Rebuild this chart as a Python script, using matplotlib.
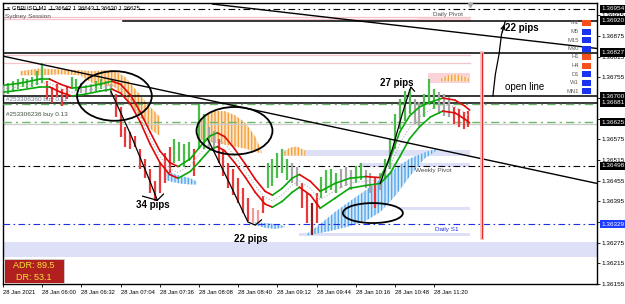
import matplotlib
matplotlib.use("Agg")
import matplotlib.pyplot as plt
import matplotlib.transforms as mtransforms
from matplotlib.patches import Ellipse, Rectangle
from matplotlib.collections import LineCollection
import numpy as np

plt.rcParams['font.family'] = ['Liberation Sans', 'DejaVu Sans']
plt.rcParams['hatch.linewidth'] = 1.0

# time axis: minutes since 05:28, 28 Jan 2021 (M1 chart), bars sampled every 4 minutes
bar_t = list(range(0, 384, 4))
bar_hi = [1.36732, 1.36738, 1.36744, 1.36750, 1.36752, 1.36750, 1.36755, 1.36773, 1.36796, 1.36744,
          1.36727, 1.36735, 1.36721, 1.36729, 1.36755, 1.36750, 1.36738, 1.36732, 1.36735, 1.36744,
          1.36750, 1.36744, 1.36735, 1.36706, 1.36669, 1.36611, 1.36597, 1.36585, 1.36548, 1.36519,
          1.36490, 1.36453, 1.36505, 1.36534, 1.36554, 1.36577, 1.36568, 1.36562, 1.36568, 1.36548,
          1.36678, 1.36649, 1.36611, 1.36600, 1.36577, 1.36548, 1.36505, 1.36490, 1.36462, 1.36433,
          1.36404, 1.36375, 1.36369, 1.36410, 1.36505, 1.36519, 1.36534, 1.36548, 1.36519, 1.36505,
          1.36496, 1.36447, 1.36418, 1.36390, 1.36418, 1.36467, 1.36485, 1.36490, 1.36476, 1.36490,
          1.36496, 1.36485, 1.36499, 1.36505, 1.36485, 1.36476, 1.36462, 1.36476, 1.36519, 1.36577,
          1.36649, 1.36692, 1.36715, 1.36721, 1.36692, 1.36683, 1.36706, 1.36750, 1.36721, 1.36712,
          1.36706, 1.36698, 1.36669, 1.36663, 1.36655, 1.36657]
bar_lo = [1.36704, 1.36706, 1.36715, 1.36721, 1.36727, 1.36724, 1.36727, 1.36732, 1.36738, 1.36692,
          1.36680, 1.36698, 1.36672, 1.36692, 1.36721, 1.36715, 1.36709, 1.36706, 1.36709, 1.36715,
          1.36721, 1.36712, 1.36704, 1.36640, 1.36583, 1.36554, 1.36548, 1.36554, 1.36490, 1.36462,
          1.36418, 1.36395, 1.36418, 1.36447, 1.36476, 1.36505, 1.36511, 1.36496, 1.36513, 1.36470,
          1.36548, 1.36548, 1.36548, 1.36542, 1.36505, 1.36470, 1.36433, 1.36413, 1.36390, 1.36361,
          1.36338, 1.36332, 1.36329, 1.36361, 1.36433, 1.36439, 1.36462, 1.36476, 1.36456, 1.36447,
          1.36439, 1.36375, 1.36332, 1.36297, 1.36332, 1.36404, 1.36418, 1.36427, 1.36418, 1.36433,
          1.36439, 1.36427, 1.36447, 1.36456, 1.36433, 1.36418, 1.36375, 1.36427, 1.36456, 1.36490,
          1.36548, 1.36606, 1.36629, 1.36649, 1.36620, 1.36614, 1.36640, 1.36678, 1.36663, 1.36649,
          1.36643, 1.36640, 1.36620, 1.36611, 1.36606, 1.36611]
# g up, r down, k neutral, p pale down, d dark down
bar_kind = "gggggggggrrrrrggkkkggkkrrrrrrrrrrrrggggrggkkrrrrrrrpprgggggkkrrdrggggkkkggkkrkggggggkkgggkkkrrrr"

# moving-average envelope
chan_t = [0, 14, 30, 38, 47, 56, 67, 79, 89, 96, 104, 112, 120, 128, 136, 143, 153, 161, 169, 175, 181, 189,
          198, 206, 214, 220, 228, 236, 242, 251, 259, 271, 283, 296, 308, 316, 324, 332, 340, 349, 359, 369, 377, 381]
chan_up = [1.36732, 1.36738, 1.36750, 1.36750, 1.36735, 1.36724, 1.36727, 1.36735, 1.36744, 1.36735,
           1.36704, 1.36655, 1.36597, 1.36542, 1.36508, 1.36496, 1.36519, 1.36554, 1.36585, 1.36594,
           1.36583, 1.36548, 1.36502, 1.36459, 1.36424, 1.36413, 1.36433, 1.36462, 1.36473, 1.36453,
           1.36424, 1.36447, 1.36462, 1.36467, 1.36464, 1.36519, 1.36597, 1.36643, 1.36669, 1.36683,
           1.36695, 1.36689, 1.36672, 1.36660]
chan_lo = [1.36712, 1.36718, 1.36727, 1.36727, 1.36712, 1.36701, 1.36706, 1.36715, 1.36721, 1.36709,
           1.36678, 1.36626, 1.36562, 1.36508, 1.36473, 1.36462, 1.36482, 1.36513, 1.36545, 1.36554,
           1.36542, 1.36508, 1.36464, 1.36421, 1.36387, 1.36378, 1.36395, 1.36421, 1.36436, 1.36413,
           1.36375, 1.36404, 1.36433, 1.36441, 1.36447, 1.36476, 1.36525, 1.36577, 1.36611, 1.36640,
           1.36657, 1.36652, 1.36634, 1.36623]
chan_mid = [1.36722, 1.36728, 1.36738, 1.36738, 1.36724, 1.36712, 1.36716, 1.36725, 1.36732, 1.36722,
            1.36691, 1.36640, 1.36580, 1.36525, 1.36490, 1.36479, 1.36500, 1.36534, 1.36565, 1.36574,
            1.36562, 1.36528, 1.36483, 1.36440, 1.36406, 1.36396, 1.36414, 1.36442, 1.36454, 1.36433,
            1.36400, 1.36426, 1.36448, 1.36454, 1.36457, 1.36498, 1.36561, 1.36610, 1.36640, 1.36662,
            1.36676, 1.36670, 1.36653, 1.36642]

# supply (orange) and demand (blue) zones
sell1_t = [14, 30, 47, 63, 73, 83, 91, 100, 108, 116, 122, 128]
sell1_top = [1.36773, 1.36781, 1.36778, 1.36776, 1.36773, 1.36776, 1.36776, 1.36755, 1.36721, 1.36686, 1.36663, 1.36640]
sell1_bot = [1.36761, 1.36761, 1.36764, 1.36761, 1.36738, 1.36732, 1.36727, 1.36692, 1.36657, 1.36623, 1.36600, 1.36585]
sell2_t = [159, 165, 173, 181, 189, 198, 206, 211]
sell2_top = [1.36620, 1.36643, 1.36657, 1.36657, 1.36646, 1.36623, 1.36583, 1.36542]
sell2_bot = [1.36577, 1.36571, 1.36565, 1.36560, 1.36554, 1.36548, 1.36539, 1.36534]
sell3_t = [229, 234, 240, 247]
sell3_top = [1.36537, 1.36551, 1.36554, 1.36542]
sell3_bot = [1.36528, 1.36528, 1.36528, 1.36528]
sell4_t = [357, 363, 370, 376, 381]
sell4_top = [1.36750, 1.36761, 1.36764, 1.36758, 1.36750]
sell4_bot = [1.36744, 1.36744, 1.36744, 1.36744, 1.36744]
buy1_t = [131, 136, 144, 153, 158]
buy1_top = [1.36485, 1.36479, 1.36470, 1.36462, 1.36453]
buy1_bot = [1.36462, 1.36453, 1.36447, 1.36444, 1.36444]
buy2_t = [206, 214, 222, 230]
buy2_top = [1.36335, 1.36332, 1.36329, 1.36323]
buy2_bot = [1.36326, 1.36318, 1.36315, 1.36320]
buy3_t = [248, 259, 271, 283, 296, 308, 320, 332, 344, 354]
buy3_top = [1.36300, 1.36329, 1.36364, 1.36395, 1.36427, 1.36459, 1.36490, 1.36519, 1.36537, 1.36548]
buy3_bot = [1.36295, 1.36303, 1.36312, 1.36323, 1.36338, 1.36364, 1.36410, 1.36467, 1.36519, 1.36542]

# pale rectangles (pivot zones)
lav_t0 = [0, 229, 291, 324, 242]
lav_t1 = [485, 381, 381, 381, 381]
lav_lo = [1.36234, 1.36528, 1.36496, 1.36369, 1.36295]
lav_hi = [1.36277, 1.36545, 1.36505, 1.36378, 1.36303]
pink_levels = [1.36931, 1.36925, 1.36819, 1.36796]
pink_box_t = [347, 340]
pink_box_t1 = [381, 381]
pink_box_lo = [1.36738, 1.36917]
pink_box_hi = [1.36767, 1.36928]

# horizontal levels
lvl_pivot_top = 1.36954
lvl_line22 = 1.36920
lvl_solid = [1.36827, 1.36700, 1.36681]
lvl_buy = [1.36678, 1.36625]
lvl_bid = 1.36620
lvl_weekly = 1.36498
lvl_s1 = 1.36329

trend1_t, trend1_p = [-3, 485], [1.36819, 1.36447]
trend2_t, trend2_p = [171, 485], [1.36968, 1.36839]

open_t = [400, 402, 405, 407, 410]
open_p = [1.36701, 1.36764, 1.36822, 1.36879, 1.36917]
p27_t = [308, 318, 326, 331, 333, 336]
p27_p = [1.36447, 1.36548, 1.36649, 1.36706, 1.36727, 1.36715]
p34_t = [88, 104, 120, 126, 131]
p34_p = [1.36715, 1.36591, 1.36453, 1.36398, 1.36416]
p34_hook_t, p34_hook_p = [126, 114], [1.36398, 1.36410]
p22_t = [167, 185, 200, 206, 211]
p22_p = [1.36577, 1.36447, 1.36335, 1.36326, 1.36341]

circ_t = [91, 189, 302]
circ_p = [1.36701, 1.36600, 1.36361]
circ_w = [61, 62, 49]
circ_h = [0.00144, 0.00138, 0.00058]

vline_t = 391
vline_p = [1.36289, 1.36827]

tick_t = list(range(0, 353, 32))
tick_lab = ["28 Jan 2021", "28 Jan 06:00", "28 Jan 06:32", "28 Jan 07:04", "28 Jan 07:36", "28 Jan 08:08",
            "28 Jan 08:40", "28 Jan 09:12", "28 Jan 09:44", "28 Jan 10:16", "28 Jan 10:48", "28 Jan 11:20"]
price_ticks = [1.36155, 1.36215, 1.36275, 1.36335, 1.36395, 1.36455, 1.36515, 1.36575,
               1.36635, 1.36695, 1.36755, 1.36815, 1.36875, 1.36935]
box_prices = [1.36954, 1.36920, 1.36827, 1.36700, 1.36681, 1.36625, 1.36498]
s1_box = 1.36329

tf_names = ["M1", "M5", "M15", "M30", "H1", "H4", "D1", "W1", "MN1"]
tf_up = [False, True, True, True, False, False, True, True, True]

# ---------------------------------------------------------------
fig = plt.figure(figsize=(6.25, 3.04), dpi=100)
ax = fig.add_axes([3 / 625, 20 / 304, 594 / 625, 281 / 304])
ax.set_xlim(0, 485)
ax.set_ylim(1.36162, 1.36971)

def px(x, y):
    return x / 625, 1 - y / 304

# pale bands
for t0, t1, lo, hi in zip(lav_t0, lav_t1, lav_lo, lav_hi):
    ax.fill_between([t0, t1], lo, hi, color='#dde0f7', lw=0, zorder=1)
for lv in pink_levels:
    ax.plot([0, 381], [lv, lv], color='#f6c4cb', lw=0.9, zorder=1)
for t0, t1, lo, hi in zip(pink_box_t, pink_box_t1, pink_box_lo, pink_box_hi):
    ax.fill_between([t0, t1], lo, hi, color='#fad3d9', lw=0, zorder=1)

# zones
for t, top, bot in [(sell1_t, sell1_top, sell1_bot), (sell2_t, sell2_top, sell2_bot),
                    (sell3_t, sell3_top, sell3_bot), (sell4_t, sell4_top, sell4_bot)]:
    ax.fill_between(t, bot, top, facecolor='#fde6c8', edgecolor='#f5a03e', hatch='|||||', lw=0, zorder=2)
for t, top, bot in [(buy1_t, buy1_top, buy1_bot), (buy2_t, buy2_top, buy2_bot), (buy3_t, buy3_top, buy3_bot)]:
    ax.fill_between(t, bot, top, facecolor='#d3e8fb', edgecolor='#5aa8ec', hatch='|||||', lw=0, zorder=2)

# levels
dd = (0, (6, 3, 1.5, 3))
ax.axhline(lvl_pivot_top, color='black', lw=0.8, ls=dd, zorder=3)
ax.plot([98, 485], [lvl_line22, lvl_line22], color='black', lw=1.1, zorder=3)
for lv in lvl_solid:
    ax.axhline(lv, color='black', lw=1.1, zorder=3)
for lv in lvl_buy:
    ax.axhline(lv, color='#6cb86c', lw=1.0, ls=dd, zorder=3)
ax.axhline(lvl_bid, color='#cccccc', lw=0.9, zorder=2)
ax.axhline(lvl_weekly, color='black', lw=0.8, ls=dd, zorder=3)
ax.axhline(lvl_s1, color='#2030e6', lw=0.8, ls=dd, zorder=3)

# bars
bar_colors = {'g': '#4cbc4c', 'r': '#e83a3a', 'k': '#a6a6a6', 'p': '#f29a9a', 'd': '#8b1c1c'}
ax.vlines(bar_t, bar_lo, bar_hi, colors=[bar_colors[c] for c in bar_kind], lw=1.6, zorder=4)

# envelope, coloured by direction
for series in (chan_up, chan_lo):
    pts = np.column_stack([chan_t, series])
    segs = np.stack([pts[:-1], pts[1:]], axis=1)
    cols = ['#0aa80a' if d >= 0 else '#dd0a0a' for d in np.diff(series)]
    ax.add_collection(LineCollection(segs, colors=cols, lw=1.2, zorder=5, capstyle='round'))
ax.plot(chan_t, chan_mid, color='#b4b4b4', lw=0.8, ls=':', zorder=5)

# trend lines and notes
ax.plot(trend1_t, trend1_p, color='black', lw=1.0, zorder=6)
ax.plot(trend2_t, trend2_p, color='black', lw=1.0, zorder=6)
ax.plot([vline_t, vline_t], vline_p, color='#f7b7b7', lw=2.6, zorder=6)
ax.plot([vline_t, vline_t], vline_p, color='#e02626', lw=0.7, zorder=6)

ax.plot(open_t, open_p, color='black', lw=0.9, zorder=7)
ax.annotate('', xy=(open_t[-1], open_p[-1]), xytext=(open_t[-2], open_p[-2]),
            arrowprops=dict(arrowstyle='->', lw=0.9, color='black', mutation_scale=7), zorder=7)
ax.plot(p27_t, p27_p, color='black', lw=0.9, zorder=7)
ax.plot(p34_t, p34_p, color='black', lw=0.9, zorder=7)
ax.plot(p34_hook_t, p34_hook_p, color='black', lw=0.9, zorder=7)
ax.plot(p22_t, p22_p, color='black', lw=0.9, zorder=7)

for t, p, w, h in zip(circ_t, circ_p, circ_w, circ_h):
    ax.add_patch(Ellipse((t, p), w, h, fill=False, ec='black', lw=1.3, zorder=7))

ax.text(109, 1.36384, "34 pips", fontsize=7, fontweight='bold', va='center', zorder=8)
ax.text(189, 1.36286, "22 pips", fontsize=7, fontweight='bold', va='center', zorder=8)
ax.text(308, 1.36738, "27 pips", fontsize=7, fontweight='bold', va='center', zorder=8)
ax.text(410, 1.36899, "22 pips", fontsize=7, fontweight='bold', va='center', zorder=8)
ax.text(410, 1.36727, "open line", fontsize=7, va='center', zorder=8)
ax.text(336, 1.36485, "Weekly Pivot", fontsize=4.6, color='#505050', va='center', zorder=8)
ax.text(353, 1.36312, "Daily S1", fontsize=4.6, color='#2030e6', va='center', zorder=8)
ax.text(351, 1.36937, "Daily Pivot", fontsize=4.6, color='#505050', va='center', zorder=8)
ax.text(2.5, 1.36692, "#253306360 buy 0.11", fontsize=4.6, color='#6c7890', va='center', zorder=8)
ax.text(2.5, 1.36646, "#253306236 buy 0.13", fontsize=4.6, color='#405040', va='center', zorder=8)
ax.text(1.5, 1.36931, "Sydney Session", fontsize=4.6, color='#505050', va='center', zorder=8)
ax.plot(381, 1.36966, marker='v', color='#a8a8a8', ms=3, zorder=8, clip_on=False)

# axes
ax.set_xticks(tick_t)
ax.set_xticklabels(tick_lab)
for lbl in ax.get_xticklabels():
    lbl.set_horizontalalignment('left')
ax.tick_params(axis='x', length=2, width=0.6, pad=2, labelsize=4.2)
ax.yaxis.tick_right()
ax.set_yticks(price_ticks)
covered = [1.36335, 1.36635, 1.36695]  # hidden behind the boxed level labels
ax.set_yticklabels(["" if p in covered else f"{p:.5f}" for p in price_ticks])
ax.tick_params(axis='y', length=2, width=0.6, pad=1.5, labelsize=4.6)
for s in ax.spines.values():
    s.set_linewidth(1.0)

trans = mtransforms.blended_transform_factory(ax.transAxes, ax.transData)
for p in box_prices:
    ax.text(1.0 + 4.5 / 594, p, f"{p:.5f}", transform=trans, fontsize=4.6, color='white', va='center', ha='left',
            bbox=dict(boxstyle='square,pad=0.25', fc='black', ec='none'), clip_on=False, zorder=10)
ax.text(1.0 + 4.5 / 594, s1_box, f"{s1_box:.5f}", transform=trans, fontsize=4.6, color='white', va='center',
        ha='left', bbox=dict(boxstyle='square,pad=0.25', fc='#1e3cff', ec='none'), clip_on=False, zorder=10)

# header and widgets
fig.text(*px(5, 8), "\u25bc", fontsize=3.5, color='#606060', va='center')
fig.text(*px(12, 8), "GBPUSD,M1  1.36642 1.36643 1.36630 1.36625", fontsize=4.2, va='center')

for i, (name, up) in enumerate(zip(tf_names, tf_up)):
    yy = 23 + 8.5 * i
    fig.text(*px(579, yy), name, fontsize=4.2, color='#606060', ha='right', va='center')
    x0, y0 = px(582, yy + 3)
    fig.add_artist(Rectangle((x0, y0), 9 / 625, 6 / 304, transform=fig.transFigure,
                             fc='#1a33f0' if up else '#f4511e', ec='none'))

x0, y0 = px(4, 283)
fig.add_artist(Rectangle((x0, y0), 60 / 625, 24 / 304, transform=fig.transFigure,
                         fc='#b21f1f', ec='#cfcfcf', lw=0.6))
fig.text(*px(34, 265.5), "ADR: 89.5", fontsize=6.5, color='#f3e53a', ha='center', va='center')
fig.text(*px(34, 277), "DR: 53.1", fontsize=6.5, color='#f3e53a', ha='center', va='center')

fig.savefig("out.png", dpi=100, facecolor='white')
